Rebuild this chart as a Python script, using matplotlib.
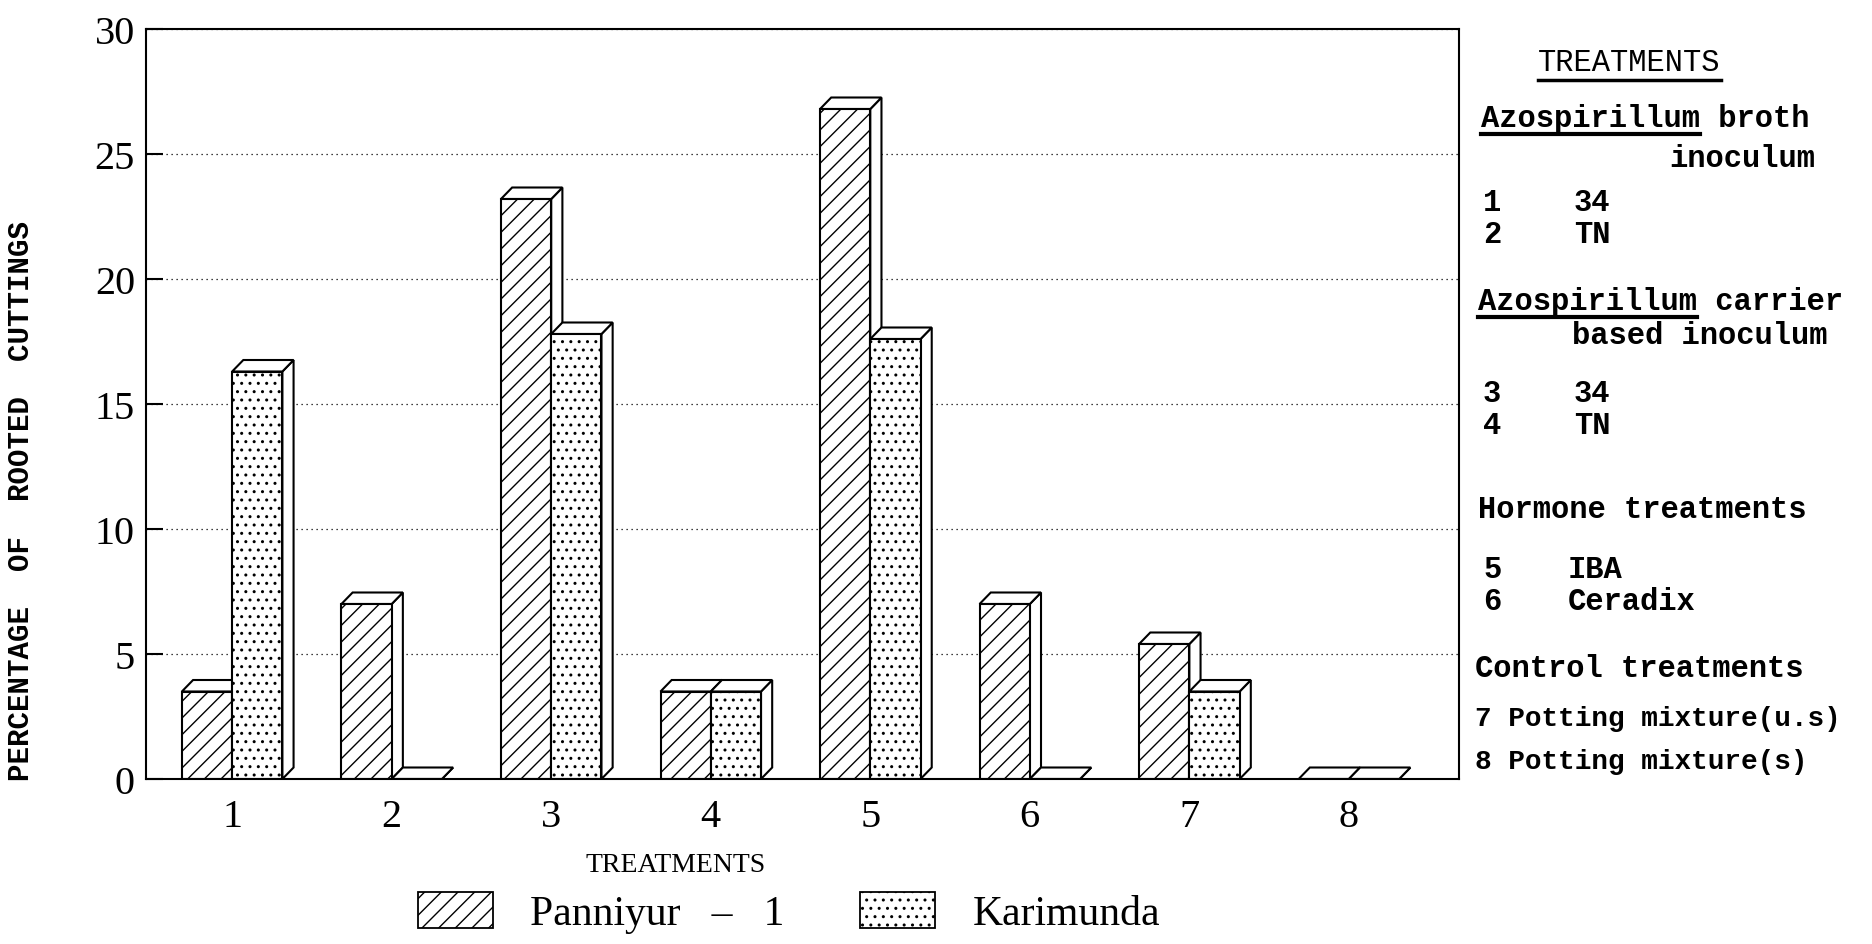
import matplotlib
matplotlib.use("Agg")
import matplotlib.pyplot as plt
from matplotlib.patches import Rectangle, Polygon, Patch
from matplotlib.lines import Line2D

# data
treatments = [1, 2, 3, 4, 5, 6, 7, 8]
panniyur = [3.5, 7.0, 23.2, 3.5, 26.8, 7.0, 5.4, 0.0]
karimunda = [16.3, 0.0, 17.8, 3.5, 17.6, 0.0, 3.5, 0.0]
yticks = [0, 5, 10, 15, 20, 25, 30]

# side notes on the right (text, x px, y px)
notes = [
    ("Azospirillum broth", 1481, 119),
    ("inoculum", 1669, 159),
    ("1", 1483, 203), ("34", 1574, 203),
    ("2", 1483, 235), ("TN", 1574, 235),
    ("Azospirillum carrier", 1478, 302),
    ("based inoculum", 1572, 336),
    ("3", 1483, 394), ("34", 1574, 394),
    ("4", 1483, 426), ("TN", 1574, 426),
    ("Hormone treatments", 1478, 510),
    ("5", 1483, 570), ("IBA", 1568, 570),
    ("6", 1483, 602), ("Ceradix", 1568, 602),
    ("Control treatments", 1475, 669),
]
notes_small = [
    ("7 Potting mixture(u.s)", 1475, 719),
    ("8 Potting mixture(s)", 1475, 762),
]

W, H = 1872, 945
plt.rcParams["hatch.linewidth"] = 1.0

fig = plt.figure(figsize=(W / 100, H / 100), dpi=100)
ax = fig.add_axes([146 / W, 1 - 780 / H, (1459 - 146) / W, (780 - 30) / H])

bw = 0.315   # bar width
dx = 0.07    # depth offset x
dy = 0.46    # depth offset y


def bar3d(x0, h, hatch):
    side = Polygon([(x0 + bw, 0), (x0 + bw + dx, dy), (x0 + bw + dx, h + dy), (x0 + bw, h)],
                   closed=True, facecolor="white", edgecolor="black", lw=1.5)
    top = Polygon([(x0, h), (x0 + bw, h), (x0 + bw + dx, h + dy), (x0 + dx, h + dy)],
                  closed=True, facecolor="white", edgecolor="black", lw=1.5)
    front = Rectangle((x0, 0), bw, h, facecolor="white", edgecolor="black", lw=1.5, hatch=hatch)
    for p in (side, top, front):
        ax.add_patch(p)


for t, p, k in zip(treatments, panniyur, karimunda):
    bar3d(t - bw, p, "//")
    bar3d(t, k, "..")

ax.set_xlim(0.46, 8.69)
ax.set_ylim(0, 30)
ax.set_yticks(yticks)
ax.set_xticks(treatments)
ax.set_xticklabels([str(t) for t in treatments])
ax.set_axisbelow(True)
ax.yaxis.grid(True, linestyle=(0, (1, 3)), color="black", lw=0.9)
for s in ax.spines.values():
    s.set_linewidth(1.5)
ax.tick_params(axis="y", direction="in", length=12, width=1.5, pad=8,
               labelsize=29, labelfontfamily="Liberation Serif")
ax.tick_params(axis="x", length=0, pad=14, labelsize=29, labelfontfamily="Liberation Serif")

fig.text(21 / W, 1 - 501 / H, "PERCENTAGE  OF  ROOTED  CUTTINGS", rotation=90,
         ha="center", va="center", family="Liberation Mono", fontweight="bold", fontsize=21)
fig.text(676 / W, 1 - 866 / H, "TREATMENTS", ha="center", va="center",
         family="Liberation Serif", fontsize=20)

handles = [Patch(facecolor="white", edgecolor="black", hatch="//", lw=1.3),
           Patch(facecolor="white", edgecolor="black", hatch="..", lw=1.3)]
fig.legend(handles, ["Panniyur   –   1", "Karimunda"], ncol=2, frameon=False,
           loc="upper left", bbox_to_anchor=(418 / W, 1 - 893 / H),
           prop={"family": "Liberation Serif", "size": 30},
           handlelength=1.8, handleheight=0.95, handletextpad=0.9,
           columnspacing=1.8, borderpad=0, borderaxespad=0)

# right-hand notes
head = fig.text(1538 / W, 1 - 63 / H, "TREATMENTS", ha="left", va="center",
                family="Liberation Mono", fontsize=22)
txts = []
for s, x, y in notes:
    txts.append(fig.text(x / W, 1 - y / H, s, ha="left", va="center",
                         family="Liberation Mono", fontweight="bold", fontsize=22))
for s, x, y in notes_small:
    fig.text(x / W, 1 - y / H, s, ha="left", va="center",
             family="Liberation Mono", fontweight="bold", fontsize=20)

# underlines
fig.canvas.draw()
r = fig.canvas.get_renderer()
bb = head.get_window_extent(r)
fig.add_artist(Line2D([bb.x0 / W, bb.x1 / W], [(bb.y0 - 3) / H] * 2, color="black", lw=2.5))
for t in txts:
    s = t.get_text()
    if s.startswith("Azospirillum"):
        bb = t.get_window_extent(r)
        x1 = bb.x0 + bb.width * 12 / len(s)
        fig.add_artist(Line2D([bb.x0 / W, x1 / W], [(bb.y0 - 1) / H] * 2, color="black", lw=3))

fig.savefig("out.png", dpi=100)
